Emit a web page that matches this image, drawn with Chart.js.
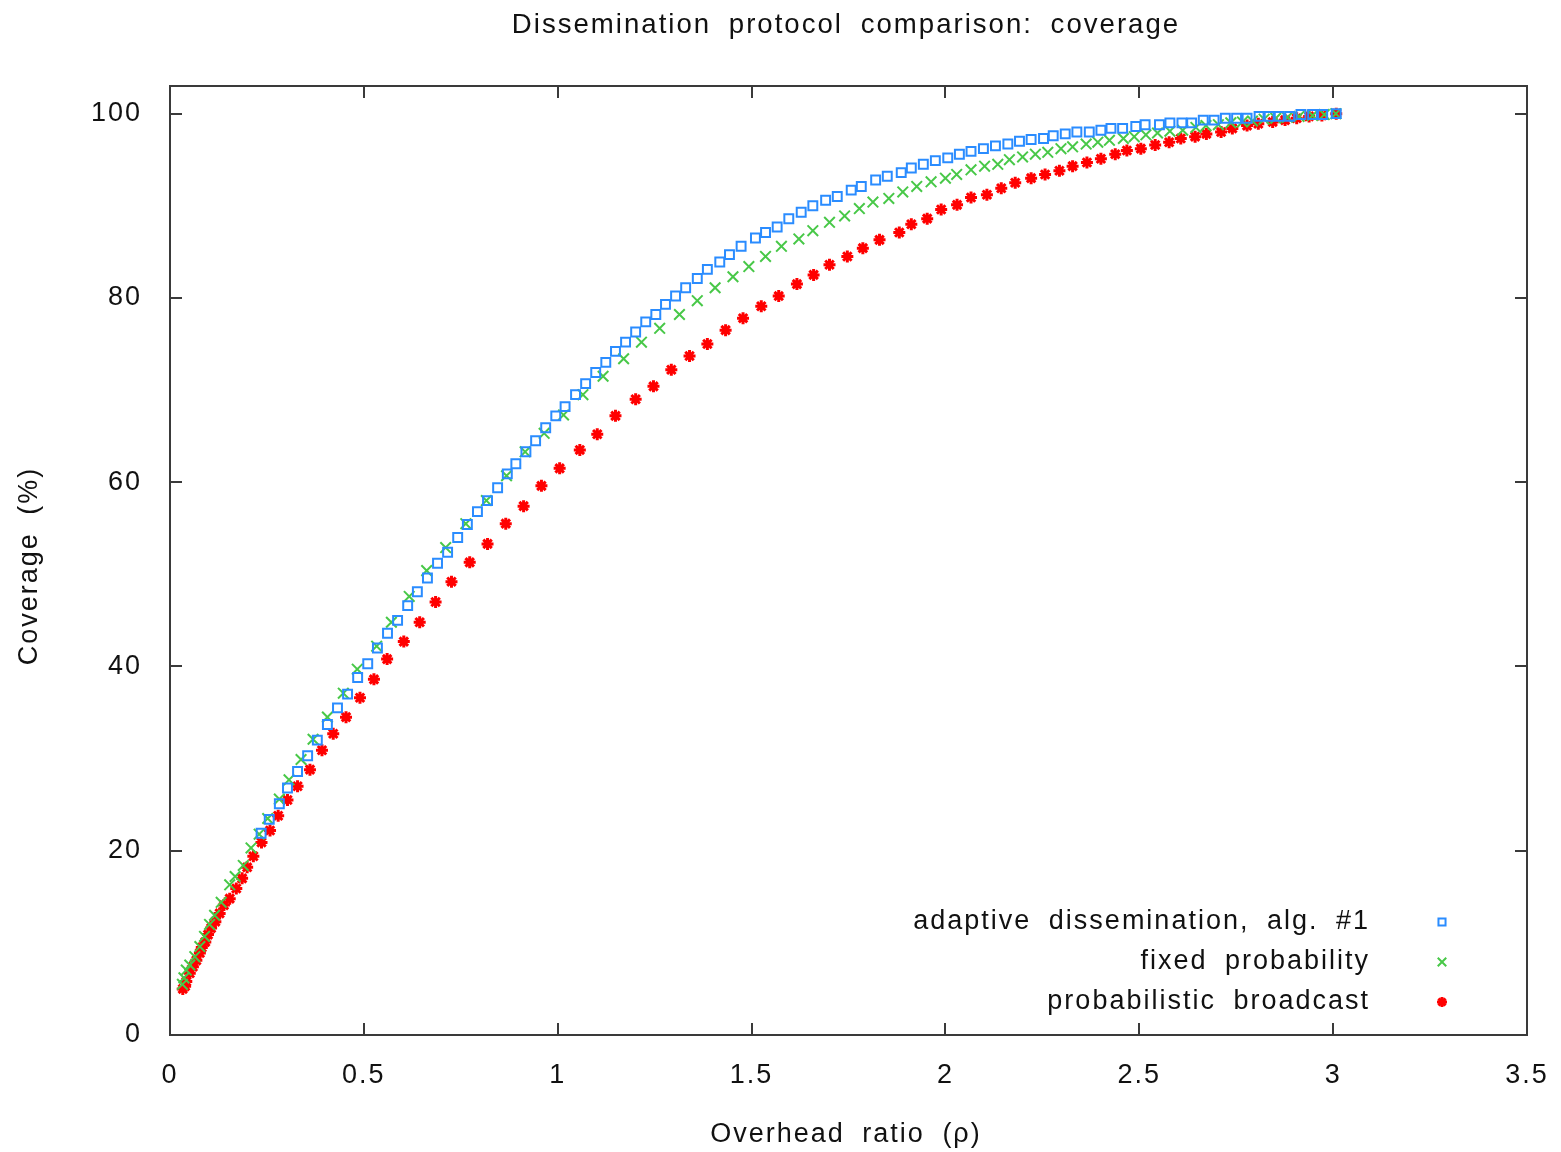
<!DOCTYPE html>
<html>
<head>
<meta charset="utf-8">
<script src="https://cdn.jsdelivr.net/npm/chart.js@4.4.1/dist/chart.umd.min.js"></script>
<style>
  html, body { margin: 0; padding: 0; background: #fff; }
  #chart { display: block; }
</style>
</head>
<body>
<canvas id="chart" width="1561" height="1152"></canvas>
<script>
// axis ticks
var xTicks = [0, 0.5, 1, 1.5, 2, 2.5, 3, 3.5];
var yTicks = [0, 20, 40, 60, 80, 100];

// adaptive dissemination, alg. #1 (blue squares)
var adaptiveX = [0.235,0.256,0.282,0.303,0.329,0.355,0.380,0.406,0.432,0.458,0.484,0.510,0.535,0.561,0.587,0.613,0.638,0.664,0.690,0.716,0.742,0.767,0.793,0.819,0.845,0.870,0.892,0.918,0.943,0.969,
  0.995,1.019,1.046,1.072,1.098,1.124,1.149,1.175,1.201,1.227,1.253,1.278,1.304,1.330,1.360,1.386,1.418,1.443,1.473,1.510,1.536,1.566,1.596,1.628,1.658,1.691,1.721,1.757,1.783,1.820,1.850,
  1.886,1.912,1.943,1.974,2.006,2.036,2.066,2.098,2.129,2.161,2.191,2.221,2.253,2.278,2.309,2.339,2.371,2.401,2.427,2.457,2.491,2.515,2.552,2.579,2.610,2.635,2.665,2.693,2.722,2.751,2.778,2.809,2.835,2.861,2.888,2.917,2.947,2.973,3.008];
var adaptiveY = [21.9,23.4,25.1,26.8,28.6,30.3,32.0,33.7,35.5,37.0,38.8,40.3,42.0,43.6,45.0,46.6,48.1,49.6,51.2,52.4,54.0,55.4,56.8,58.0,59.4,60.9,62.0,63.3,64.5,65.9,
  67.2,68.2,69.5,70.7,71.9,73.0,74.2,75.2,76.3,77.4,78.2,79.3,80.2,81.1,82.1,83.1,83.9,84.7,85.6,86.5,87.1,87.7,88.6,89.3,90.0,90.6,91.0,91.7,92.1,92.8,93.2,
  93.6,94.1,94.5,94.9,95.2,95.6,95.9,96.2,96.5,96.7,97.0,97.2,97.3,97.6,97.8,98.0,98.0,98.2,98.4,98.4,98.6,98.8,98.8,99.0,99.0,99.0,99.3,99.3,99.5,99.5,99.5,99.7,99.7,99.7,99.7,99.9,99.9,99.9,100];

// fixed probability (green crosses)
var fixedX = [0.032,0.036,0.042,0.051,0.064,0.077,0.089,0.102,0.115,0.132,0.154,0.168,0.189,0.209,0.230,0.252,0.282,0.307,0.338,0.369,0.406,0.447,0.483,0.533,0.571,0.617,0.662,0.711,0.763,0.816,0.868,0.916,0.965,
  1.015,1.065,1.117,1.170,1.216,1.263,1.314,1.360,1.406,1.452,1.493,1.536,1.577,1.622,1.658,1.701,1.740,1.778,1.813,1.854,
  1.890,1.926,1.963,2.000,2.029,2.066,2.101,2.135,2.165,2.199,2.232,2.264,2.298,2.328,2.363,2.393,2.423,2.459,2.487,2.517,2.547,2.579,2.612,2.646,2.672,2.704,2.736,2.766,2.792,2.822,2.852,2.882,2.912,2.947,2.977,3.007];
var fixedY = [5.5,6.2,7.05,7.6,8.5,9.6,10.7,12.0,13.0,14.4,16.3,17.2,18.4,20.3,21.8,23.5,25.6,27.7,29.9,32.1,34.5,37.1,39.7,42.2,44.8,47.6,50.4,52.9,55.5,58.0,60.7,63.3,65.3,
  67.3,69.5,71.5,73.4,75.2,76.7,78.2,79.7,81.1,82.3,83.4,84.5,85.6,86.4,87.3,88.2,88.9,89.7,90.4,90.8,
  91.5,92.1,92.6,93.0,93.4,93.9,94.3,94.5,95.0,95.3,95.6,95.8,96.2,96.4,96.7,96.9,97.1,97.3,97.5,97.7,97.9,98.1,98.2,98.5,98.7,98.8,99.0,99.1,99.2,99.4,99.5,99.6,99.7,99.8,99.9,100];

// probabilistic broadcast (red stars)
var probX = [0.033,0.039,0.042,0.051,0.059,0.068,0.077,0.082,0.091,0.098,0.106,0.117,0.128,0.139,0.154,0.171,0.186,0.199,0.215,0.236,
  0.258,0.279,0.303,0.329,0.361,0.392,0.421,0.454,0.490,0.526,0.560,0.603,0.644,0.685,0.726,0.773,0.819,0.866,0.912,0.958,
  1.005,1.057,1.102,1.149,1.201,1.247,1.293,1.340,1.386,1.433,1.478,1.525,1.570,1.617,1.660,1.701,1.747,1.787,1.830,1.881,
  1.912,1.953,1.989,2.030,2.066,2.107,2.144,2.180,2.221,2.257,2.294,2.328,2.365,2.401,2.438,2.468,2.504,2.541,2.577,2.607,
  2.644,2.673,2.711,2.740,2.778,2.807,2.844,2.876,2.906,2.938,2.971,3.008];
var probY = [5.0,5.3,5.8,6.7,7.4,8.1,8.9,9.5,10.1,10.9,11.6,12.3,13.2,14.1,14.8,15.9,17.0,18.2,19.4,20.9,
  22.2,23.8,25.5,27.0,28.8,30.9,32.7,34.5,36.6,38.6,40.8,42.7,44.8,47.0,49.2,51.3,53.3,55.5,57.4,59.6,
  61.5,63.5,65.2,67.2,69.0,70.4,72.2,73.7,75.0,76.5,77.8,79.1,80.2,81.5,82.5,83.6,84.5,85.4,86.3,87.1,
  88.0,88.6,89.6,90.1,90.9,91.2,91.9,92.5,93.0,93.4,93.8,94.3,94.7,95.1,95.6,96.0,96.2,96.6,96.9,97.3,
  97.5,97.8,98.0,98.4,98.7,98.9,99.1,99.3,99.5,99.7,99.8,100];

var FONT = '"Liberation Sans", Arial, sans-serif';
var TEXT = '#111';

function toPoints(xs, ys) {
  var pts = [];
  for (var i = 0; i < xs.length; i++) {
    pts.push({ x: xs[i], y: ys[i] });
  }
  return pts;
}

// frame, mirrored inward ticks, titles and the legend, gnuplot style
var gnuplotLook = {
  id: 'gnuplotLook',
  beforeDraw: function (chart) {
    chart.ctx.letterSpacing = '2px';
    chart.ctx.wordSpacing = '8px';
  },
  beforeDatasetsDraw: function (chart) {
    var ctx = chart.ctx;
    var a = chart.chartArea;
    var xs = chart.scales.x, ys = chart.scales.y;
    var tl = 12;
    ctx.save();
    ctx.strokeStyle = '#3a3a3a';
    ctx.lineWidth = 2;
    ctx.strokeRect(a.left, a.top, a.right - a.left, a.bottom - a.top);
    ctx.beginPath();
    xTicks.forEach(function (v) {
      var px = Math.round(xs.getPixelForValue(v));
      ctx.moveTo(px, a.bottom); ctx.lineTo(px, a.bottom - tl);
      ctx.moveTo(px, a.top); ctx.lineTo(px, a.top + tl);
    });
    yTicks.forEach(function (v) {
      var py = Math.round(ys.getPixelForValue(v));
      ctx.moveTo(a.left, py); ctx.lineTo(a.left + tl, py);
      ctx.moveTo(a.right, py); ctx.lineTo(a.right - tl, py);
    });
    ctx.stroke();
    ctx.restore();
  },
  afterDraw: function (chart) {
    var ctx = chart.ctx;
    ctx.save();
    ctx.fillStyle = TEXT;
    ctx.letterSpacing = '2px';
    ctx.wordSpacing = '8px';

    // main title
    ctx.font = '27.6px ' + FONT;
    ctx.textAlign = 'center';
    ctx.textBaseline = 'alphabetic';
    ctx.fillText('Dissemination protocol comparison: coverage', 846, 33);

    // x axis title
    ctx.font = '27px ' + FONT;
    ctx.fillText('Overhead ratio (\u03c1)', 846, 1142);

    // y axis title
    ctx.save();
    ctx.translate(37, 566);
    ctx.rotate(-Math.PI / 2);
    ctx.fillText('Coverage (%)', 0, 0);
    ctx.restore();

    // legend
    var rows = [922, 962, 1002];
    ctx.textAlign = 'right';
    ctx.textBaseline = 'middle';
    chart.data.datasets.forEach(function (ds, i) {
      ctx.fillStyle = TEXT;
      ctx.fillText(ds.label, 1370, rows[i]);
      ctx.strokeStyle = ds.pointBorderColor;
      ctx.fillStyle = ds.pointBackgroundColor;
      ctx.lineWidth = ds.pointBorderWidth;
      if (Chart.helpers && Chart.helpers.drawPoint) {
        Chart.helpers.drawPoint(ctx, {
          pointStyle: ds.pointStyle,
          radius: ds.legendRadius,
          borderWidth: ds.pointBorderWidth,
          rotation: 0
        }, 1442, rows[i]);
      }
    });
    ctx.restore();
  }
};

new Chart(document.getElementById('chart'), {
  type: 'scatter',
  data: {
    datasets: [
      {
        label: 'adaptive dissemination, alg. #1',
        data: toPoints(adaptiveX, adaptiveY),
        pointStyle: 'rect',
        pointRadius: 6.3,
        legendRadius: 5,
        pointBorderWidth: 2,
        pointBorderColor: '#2a8cff',
        pointBackgroundColor: 'rgba(0,0,0,0)'
      },
      {
        label: 'fixed probability',
        data: toPoints(fixedX, fixedY),
        pointStyle: 'crossRot',
        pointRadius: 7.5,
        legendRadius: 6,
        pointBorderWidth: 2,
        pointBorderColor: '#48c848',
        pointBackgroundColor: 'rgba(0,0,0,0)'
      },
      {
        label: 'probabilistic broadcast',
        data: toPoints(probX, probY),
        pointStyle: 'star',
        pointRadius: 6,
        legendRadius: 5,
        pointBorderWidth: 3,
        pointBorderColor: '#ff0000',
        pointBackgroundColor: '#ff0000'
      }
    ]
  },
  options: {
    responsive: false,
    animation: false,
    devicePixelRatio: 1,
    showLine: false,
    layout: { padding: { top: 86, right: 34, left: 0, bottom: 0 } },
    plugins: {
      legend: { display: false },
      title: { display: false },
      tooltip: { enabled: false }
    },
    scales: {
      x: {
        type: 'linear',
        min: 0,
        max: 3.5,
        grid: { display: false, drawTicks: false },
        border: { display: false },
        afterBuildTicks: function (axis) {
          axis.ticks = xTicks.map(function (v) { return { value: v }; });
        },
        afterFit: function (axis) {
          axis.height = 117;
          axis.paddingLeft = 0;
          axis.paddingRight = 0;
        },
        ticks: {
          padding: 24,
          maxRotation: 0,
          autoSkip: false,
          color: TEXT,
          font: { size: 27, family: FONT },
          callback: function (v) { return String(v); }
        }
      },
      y: {
        type: 'linear',
        min: 0,
        max: 103,
        grid: { display: false, drawTicks: false },
        border: { display: false },
        afterBuildTicks: function (axis) {
          axis.ticks = yTicks.map(function (v) { return { value: v }; });
        },
        afterFit: function (axis) {
          axis.width = 170;
          axis.paddingTop = 0;
          axis.paddingBottom = 0;
        },
        ticks: {
          padding: 28,
          autoSkip: false,
          color: TEXT,
          font: { size: 27, family: FONT },
          callback: function (v) { return String(v); }
        }
      }
    }
  },
  plugins: [gnuplotLook]
});
</script>
</body>
</html>
